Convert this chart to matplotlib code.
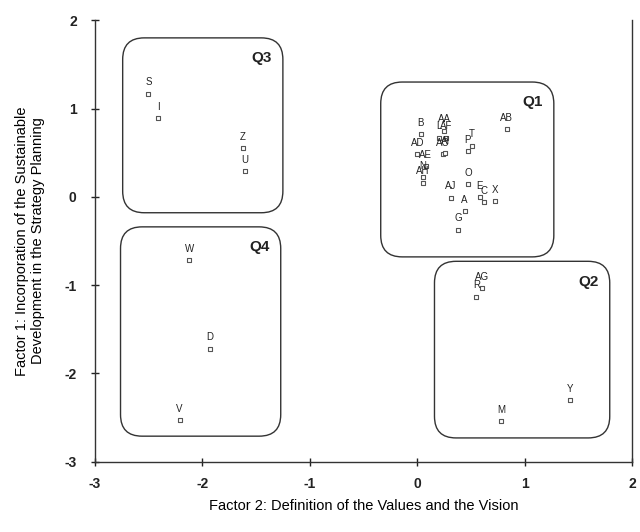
import matplotlib.pyplot as plt
from matplotlib.patches import FancyBboxPatch

plt.rcParams['font.family'] = ['Liberation Sans', 'DejaVu Sans']
plt.rcParams['axes.unicode_minus'] = False

# points: label, factor 2 (x), factor 1 (y)
labels = ['S', 'I', 'Z', 'U',
          'W', 'D', 'V',
          'AG', 'R', 'Y', 'M',
          'AB', 'T', 'P', 'B', 'AA', 'AF', 'L', 'AD', 'AC', 'AI', 'AE', 'N', 'AH',
          'AJ', 'E', 'C', 'X', 'A', 'G', 'O']
x_vals = [-2.50, -2.41, -1.62, -1.60,
          -2.12, -1.93, -2.21,
          0.60, 0.55, 1.42, 0.78,
          0.83, 0.51, 0.47, 0.03, 0.25, 0.27, 0.20, 0.00, 0.24, 0.26, 0.08, 0.05, 0.05,
          0.31, 0.58, 0.62, 0.72, 0.44, 0.38, 0.47]
y_vals = [1.17, 0.89, 0.55, 0.29,
          -0.72, -1.72, -2.53,
          -1.03, -1.13, -2.30, -2.54,
          0.77, 0.58, 0.52, 0.71, 0.75, 0.67, 0.67, 0.48, 0.48, 0.50, 0.35, 0.22, 0.16,
          -0.01, 0.00, -0.06, -0.05, -0.16, -0.37, 0.14]

# quadrant boxes
quad_names = ['Q1', 'Q2', 'Q3', 'Q4']
quad_x0 = [-0.34, 0.16, -2.74, -2.76]
quad_x1 = [1.27, 1.79, -1.25, -1.27]
quad_y0 = [-0.68, -2.73, -0.18, -2.71]
quad_y1 = [1.30, -0.73, 1.80, -0.34]

fig = plt.figure(figsize=(6.4, 5.32), dpi=100)
ax = fig.add_axes([0.148, 0.132, 0.84, 0.83])

ax.scatter(x_vals, y_vals, marker='s', s=12, facecolors='white',
           edgecolors='#555555', linewidths=0.8, zorder=3)
for lab, x, y in zip(labels, x_vals, y_vals):
    ax.annotate(lab, (x, y), xytext=(0, 4.5), textcoords='offset points',
                ha='center', va='bottom', fontsize=7, color='#222222')

for name, x0, x1, y0, y1 in zip(quad_names, quad_x0, quad_x1, quad_y0, quad_y1):
    box = FancyBboxPatch((x0, y0), x1 - x0, y1 - y0,
                         boxstyle='round,pad=0,rounding_size=0.2',
                         mutation_aspect=1.22, fill=False,
                         edgecolor='#333333', linewidth=1.0)
    ax.add_patch(box)
    ax.text(x1 - 0.1, y1 - 0.15, name, ha='right', va='top',
            fontsize=11, fontweight='bold', color='#222222')

ax.set_xlim(-3, 2)
ax.set_ylim(-3, 2)
ax.set_xticks([-3, -2, -1, 0, 1, 2])
ax.set_yticks([-3, -2, -1, 0, 1, 2])
ax.tick_params(direction='inout', length=6, width=1, labelsize=10, colors='#222222')
ax.tick_params(axis='x', pad=8)
ax.tick_params(axis='y', pad=10)
for t in ax.get_xticklabels() + ax.get_yticklabels():
    t.set_fontweight('bold')
for side in ['left', 'right', 'bottom']:
    ax.spines[side].set_color('#333333')
    ax.spines[side].set_linewidth(1.0)
ax.spines['top'].set_visible(False)

ax.set_xlabel('Factor 2: Definition of the Values and the Vision', fontsize=10.5, labelpad=6)
ax.set_ylabel('Factor 1: Incorporation of the Sustainable\nDevelopment in the Strategy Planning',
              fontsize=10.5, labelpad=14)

fig.savefig('out.png', dpi=100)
